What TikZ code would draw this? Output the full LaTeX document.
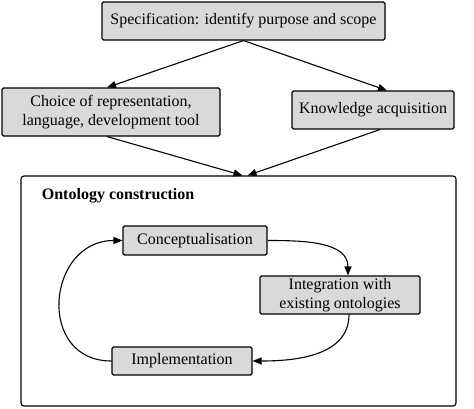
\documentclass[tikz,border=0pt]{standalone}
\usepackage{fontspec}
\setmainfont{Liberation Serif}
\usetikzlibrary{positioning, arrows.meta}
\definecolor{boxgray}{RGB}{217,217,217}

\begin{document}
\begin{tikzpicture}[x=1pt, y=1pt, >={Stealth[inset=0pt,length=9pt,width=7pt]},
                line width=1.1pt, font=\fontsize{16}{18.5}\selectfont,
                box/.style={draw, fill=boxgray, rounded corners=1.5pt, align=center, inner sep=0pt}]

    \useasboundingbox (0,0) rectangle (474,-408);

    \node[box, minimum width=283, minimum height=38] (spec) at (243.5,-21) {Specification: identify purpose and scope};
    \node[box, minimum width=218, minimum height=48] (choice) at (111,-112) {Choice of representation,\\language, development tool};
    \node[box, minimum width=162, minimum height=38] (know) at (373,-110) {Knowledge acquisition};

    \node[draw, rounded corners=3pt, minimum width=435, minimum height=230, inner sep=0pt] (onto) at (238.5,-291) {};
    \node[anchor=base west, font=\fontsize{16}{18.5}\selectfont\bfseries] (title) at (38,-199) {Ontology construction};

    \node[box, minimum width=144, minimum height=29] (concept) at (195,-240.5) {Conceptualisation};
    \node[box, minimum width=160, minimum height=38] (integ) at (340,-295) {Integration with\\existing ontologies};
    \node[box, minimum width=140, minimum height=28] (impl) at (182,-361) {Implementation};

    \path[->]
    (spec.south) edge ([xshift=-4pt]choice.north)
    (spec.south) edge ([xshift=14pt]know.north)
    ([xshift=-4pt]choice.south) edge ([xshift=4pt]onto.north)
    ([xshift=7pt]know.south) edge ([xshift=9pt]onto.north);

    \draw[->] (concept.east) to[out=0, in=90] ([xshift=8pt]integ.north);
    \draw[->] ([xshift=9pt]integ.south) to[out=-90, in=0] (impl.east);
    \draw[->] (impl.west) to[out=180, in=180, looseness=1.6] (concept.west);

\end{tikzpicture}
\end{document}
